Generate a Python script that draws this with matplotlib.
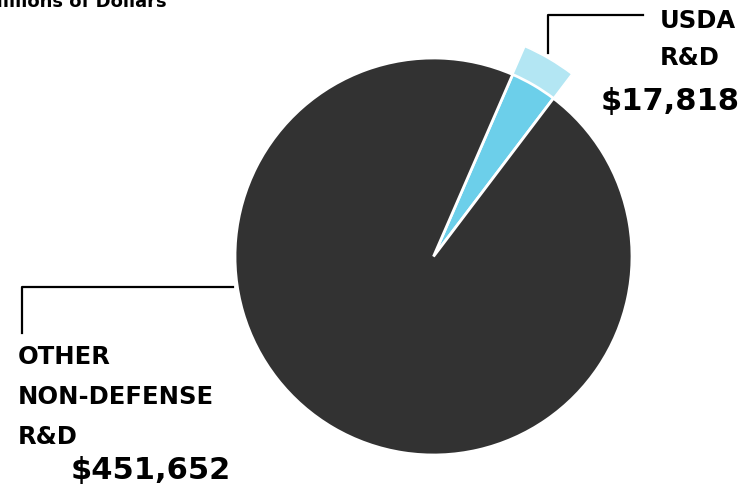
import numpy as np
import matplotlib.pyplot as plt
from matplotlib.patches import Wedge

# R&D spending, millions of dollars
labels = ["USDA\nR&D", "OTHER\nNON-DEFENSE\nR&D"]
amounts = [17818, 451652]
amount_labels = ["$17,818", "$451,652"]
colors = ["#6ccfea", "#323232"]
band_color = "#b3e6f3"

W, H = 754, 490
fig = plt.figure(figsize=(W / 100, H / 100), dpi=100)
ax = fig.add_axes([0, 0, 1, 1])

cx, cy, r = 433.5, H - 256.5, 198.5
start = 66.5

ax.pie(amounts, colors=colors, startangle=start, counterclock=False,
       center=(cx, cy), radius=r,
       wedgeprops=dict(edgecolor="white", linewidth=2))

# lighter outer band on the USDA slice
share = amounts[0] / sum(amounts) * 360
ax.add_patch(Wedge((cx, cy), 229, start - share, start, width=30,
                   facecolor=band_color, edgecolor="white", linewidth=1.2))

ax.set_xlim(0, W)
ax.set_ylim(0, H)
ax.set_aspect("equal")
ax.axis("off")

# leader lines
ax.plot([548, 548, 643], [H - 53, H - 15, H - 15], color="black", lw=1.6)
ax.plot([233, 22, 22], [H - 287, H - 287, H - 333], color="black", lw=1.6)

bold = dict(fontweight="bold", family="DejaVu Sans", color="black")
ax.text(167, H - 7, "Millions of Dollars", ha="right", va="baseline",
        fontsize=13, **bold)

ax.text(660, H - 28, "USDA", ha="left", va="baseline", fontsize=17.5, **bold)
ax.text(660, H - 65, "R&D", ha="left", va="baseline", fontsize=17.5, **bold)
ax.text(740, H - 110, amount_labels[0], ha="right", va="baseline",
        fontsize=22, **bold)

for i, line in enumerate(labels[1].split("\n")):
    ax.text(18, H - 364 - i * 40, line, ha="left", va="baseline",
            fontsize=17.5, **bold)
ax.text(231, H - 479, amount_labels[1], ha="right", va="baseline",
        fontsize=22, **bold)

fig.savefig("out.png", dpi=100)
